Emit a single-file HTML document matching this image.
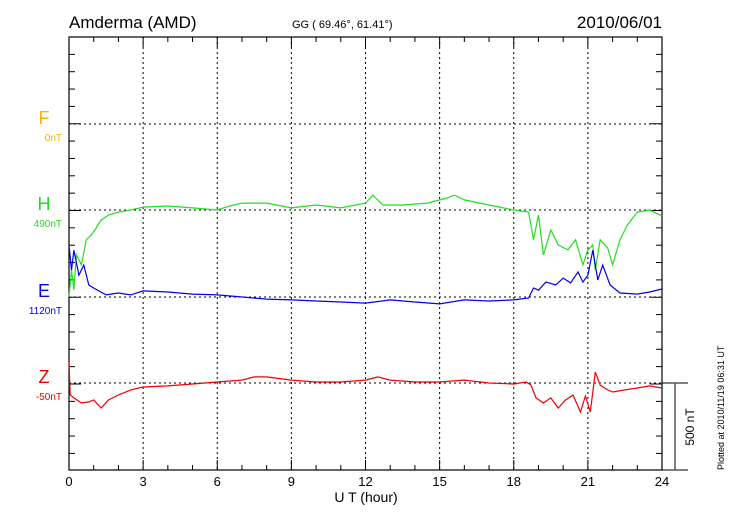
<!DOCTYPE html>
<html><head><meta charset="utf-8"><style>
body{margin:0;background:#fff;width:730px;height:520px;overflow:hidden}
svg text{font-family:"Liberation Sans",sans-serif}
</style></head><body>
<svg id="c" width="730" height="520" xmlns="http://www.w3.org/2000/svg">
<text x="69" y="28" font-size="17">Amderma (AMD)</text>
<text x="292" y="28" font-size="11">GG ( 69.46°,  61.41°)</text>
<text x="662" y="28" font-size="17" text-anchor="end">2010/06/01</text>
<text x="366" y="502" font-size="14" text-anchor="middle">U T (hour)</text>
<text transform="translate(724,470) rotate(-90)" font-size="9">Plotted at 2010/11/19 06:31  UT</text>
</svg>
<script>
const xTicks=[0,3,6,9,12,15,18,21,24];
const chNames=['F','H','E','Z'];
const chOffsets=['0nT','490nT','1120nT','-50nT'];
const chColors=['#f5b400','#22dd22','#0000ee','#ee0000'];
const hH=[0,0.1,0.2,0.3,0.5,0.7,0.9,1.1,1.3,1.6,2,2.5,3,4,5,6,6.5,7,8,9,10,11,12,12.3,12.7,13.5,14.5,15.3,15.6,16,17,18,18.6,18.8,19,19.2,19.5,19.8,20.2,20.5,20.8,21,21.2,21.3,21.5,21.8,22,22.3,22.6,23,23.5,24];
const vH=[-500,-345,-460,-259,-316,-172,-144,-104,-58,-29,-12,0,17,23,12,0,23,40,40,12,29,12,40,86,29,29,40,69,86,58,29,0,-12,-172,-29,-259,-115,-201,-230,-172,-316,-230,-201,-345,-172,-218,-316,-172,-86,-12,0,-35];
const hE=[0,0.1,0.2,0.4,0.6,0.8,1,1.5,2,2.5,3,4,5,6,7,8,9,10,11,12,13,14,15,16,17,18,18.6,18.8,19,19.3,19.7,20,20.3,20.6,20.8,21,21.2,21.4,21.6,21.9,22.3,23,23.5,24];
const vE=[299,155,270,126,184,69,52,12,23,12,35,29,17,12,0,-12,-17,-23,-29,-35,-17,-29,-40,-17,-23,-17,-6,52,40,86,69,109,81,144,86,126,270,98,184,69,23,17,29,46];
const hZ=[0,0.05,0.2,0.5,0.8,1,1.3,1.6,2,2.5,3,4,5,6,7,7.5,8,9,10,11,12,12.5,13,14,15,16,17,18,18.5,18.7,18.9,19.2,19.5,19.8,20.1,20.4,20.7,20.9,21.1,21.3,21.5,21.8,22,22.5,23,23.5,24];
const vZ=[121,-69,-86,-115,-109,-98,-144,-98,-69,-40,-23,-17,-6,6,17,35,35,17,6,6,17,35,17,6,6,17,0,-6,6,-12,-86,-115,-86,-144,-98,-69,-167,-75,-167,63,-12,-40,-52,-40,-29,-17,-29];
const L=69,R=662,T=37,B=470,base=[124,210,297,383],ppn=17.35/100;
const X=h=>L+(R-L)*h/24;
const Y=(i,v)=>base[i]-v*ppn;
const svg=document.getElementById('c'),NS='http://www.w3.org/2000/svg';
function mk(t,a,p){const e=document.createElementNS(NS,t);for(const k in a)e.setAttribute(k,a[k]);(p||svg).appendChild(e);return e;}
xTicks.slice(1,-1).forEach(h=>{const g=mk('line',{x1:X(h),x2:X(h),y1:T,y2:B,stroke:'#000','stroke-dasharray':'2,3','stroke-width':1});

});
base.forEach(b=>{const g=mk('line',{x1:L,x2:R,y1:b,y2:b,stroke:'#000','stroke-dasharray':'2,3','stroke-width':1});

});
const fr=mk('rect',{x:L,y:T,width:R-L,height:B-T,fill:'none',stroke:'#000','stroke-width':1.2});


for(let y=T+17.35;y<B-1;y+=17.35){const major=base.some(b=>Math.abs(b-y)<3);
mk('line',{x1:L,x2:L+(major?12:6),y1:y,y2:y,stroke:'#000'});mk('line',{x1:R,x2:R-(major?12:6),y1:y,y2:y,stroke:'#000'});}
for(let h=0;h<=24;h++){const big=h%3==0;mk('line',{x1:X(h),x2:X(h),y1:B,y2:B-(big?10:5),stroke:'#000'});mk('line',{x1:X(h),x2:X(h),y1:T,y2:T+(big?10:5),stroke:'#000'});}
xTicks.forEach(h=>{const t=mk('text',{x:X(h),y:B+16,'font-size':13,'text-anchor':'middle'});t.textContent=h;

});
chNames.forEach((n,i)=>{const t=mk('text',{x:44,y:base[i],'font-size':18,'text-anchor':'middle',fill:chColors[i]});t.textContent=n;


const o=mk('text',{x:62,y:base[i]+17,'font-size':10,'text-anchor':'end',fill:chColors[i]});o.textContent=chOffsets[i];

});
[[hH,vH,1],[hE,vE,2],[hZ,vZ,3]].forEach(([hs,vs,i])=>{const d=hs.map((h,k)=>(k?'L':'M')+X(h).toFixed(1)+','+Y(i,vs[k]).toFixed(1)).join('');
const p=mk('path',{d:d,fill:'none',stroke:chColors[i],'stroke-width':1.2});

});
mk('line',{x1:R,x2:688,y1:383,y2:383,stroke:'#000'});mk('line',{x1:R,x2:688,y1:B,y2:B,stroke:'#000'});
const sb=mk('line',{x1:675,x2:675,y1:383,y2:B,stroke:'#555','stroke-width':1.5});


const st=mk('text',{transform:'translate(694,427) rotate(-90)','font-size':12,'text-anchor':'middle'});st.textContent='500 nT';


</script>
</body></html>
